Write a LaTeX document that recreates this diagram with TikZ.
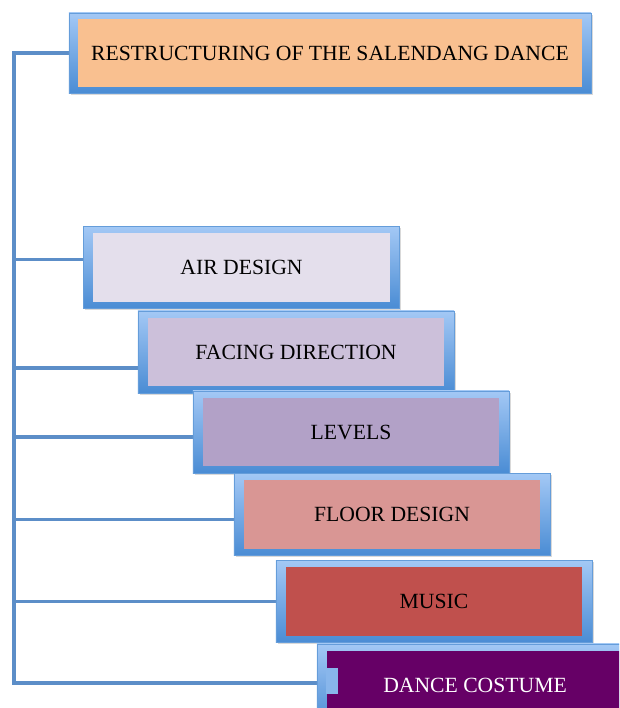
\documentclass[tikz,border=0pt]{standalone}
\usepackage{fontspec}
\setmainfont{Liberation Serif}
\usetikzlibrary{calc,shadows,backgrounds}
\definecolor{FrameTop}{RGB}{163,200,245}
\definecolor{FrameBot}{RGB}{74,140,212}
\definecolor{LinkBlue}{RGB}{92,142,200}
\definecolor{PeachFill}{RGB}{249,192,144}
\definecolor{AirFill}{RGB}{228,223,236}
\definecolor{FacingFill}{RGB}{204,192,218}
\definecolor{LevelsFill}{RGB}{178,161,199}
\definecolor{FloorFill}{RGB}{217,150,148}
\definecolor{MusicFill}{RGB}{192,80,77}
\definecolor{CostumeFill}{RGB}{102,0,102}
\tikzset{
  frame/.style={rectangle,top color=FrameTop,bottom color=FrameBot,draw=FrameBot!85,line width=0.4pt,
    minimum width=7.9cm,minimum height=2.05cm,inner sep=0pt,
    drop shadow={shadow xshift=1.2pt,shadow yshift=-1.2pt,opacity=0.3}},
  fillbox/.style={rectangle,inner sep=0pt,minimum width=7.42cm,minimum height=1.72cm,
    font=\fontsize{15.4}{18}\selectfont,text=black},
  link/.style={draw=LinkBlue,line width=2.2pt},
}

\begin{document}
\begin{tikzpicture}[x=0.025cm,y=-0.025cm]
\useasboundingbox (0,0) rectangle (619,708);
\clip (0,0) rectangle (619,708);
\coordinate (trunk) at (14,0);
\node[frame,minimum width=13.05cm,minimum height=2cm] (title) at (330,53) {};
\node[fillbox,fill=PeachFill,minimum width=12.58cm] (title-in) at (title.center) {RESTRUCTURING OF THE SALENDANG DANCE};
\node[frame] (air) at (241.5,267.5) {};
\node[fillbox,fill=AirFill] (air-in) at (air.center) {AIR DESIGN};
\node[frame] (facing) at (296,352) {};
\node[fillbox,fill=FacingFill] (facing-in) at (facing.center) {FACING DIRECTION};
\node[frame] (levels) at (351,432) {};
\node[fillbox,fill=LevelsFill] (levels-in) at (levels.center) {LEVELS};
\node[frame] (floor) at (392,514.5) {};
\node[fillbox,fill=FloorFill] (floor-in) at (floor.center) {FLOOR DESIGN};
\node[frame] (music) at (434,601.5) {};
\node[fillbox,fill=MusicFill] (music-in) at (music.center) {MUSIC};
\node[frame] (costume) at (475,685) {};
\node[fillbox,fill=CostumeFill,text=white] (costume-in) at (costume.center) {DANCE COSTUME};
\fill[FrameTop!70!FrameBot] ($(costume.west)+(9,-17)$) rectangle ($(costume.west)+(21,9)$);
\coordinate (air-j) at ($(air.west)+(0,-8)$);
\coordinate (facing-j) at ($(facing.west)+(0,16)$);
\coordinate (levels-j) at ($(levels.west)+(0,5)$);
\coordinate (floor-j) at ($(floor.west)+(0,5)$);
\coordinate (music-j) at (music.west);
\coordinate (costume-j) at ($(costume.west)+(0,-2)$);
\begin{scope}[on background layer]
\draw[link] (title.west) -- (title.west -| trunk) -- (costume-j -| trunk) -- (costume-j);
\draw[link] (air-j -| trunk) -- (air-j);
\draw[link] (facing-j -| trunk) -- (facing-j);
\draw[link] (levels-j -| trunk) -- (levels-j);
\draw[link] (floor-j -| trunk) -- (floor-j);
\draw[link] (music-j -| trunk) -- (music-j);
\end{scope}
\end{tikzpicture}
\end{document}
